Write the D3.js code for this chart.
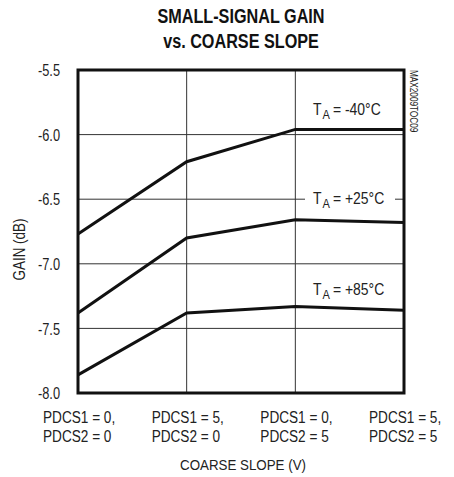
<!DOCTYPE html>
<html>
<head>
<meta charset="utf-8">
<script src="https://cdn.jsdelivr.net/npm/d3@7"></script>
<style>
  body { margin: 0; background: #fff; }
  text { font-family: "Liberation Sans", Arial, sans-serif; fill: #222; }
</style>
</head>
<body>
<div id="chart"></div>
<script>
// chart values
var categories = [["PDCS1 = 0,", "PDCS2 = 0"], ["PDCS1 = 5,", "PDCS2 = 0"], ["PDCS1 = 0,", "PDCS2 = 5"], ["PDCS1 = 5,", "PDCS2 = 5"]];
var gainM40 = [-6.77, -6.21, -5.96, -5.96];
var gainP25 = [-7.38, -6.80, -6.66, -6.68];
var gainP85 = [-7.86, -7.38, -7.33, -7.36];
var seriesNames = ["-40°C", "+25°C", "+85°C"];
var yTicks = [-8.0, -7.5, -7.0, -6.5, -6.0, -5.5];

var svgWidth = 454;
var svgHeight = 477;

var margin = { top: 70, right: 50, bottom: 84, left: 78 };
var width = 404 - margin.left;
var height = svgHeight - margin.top - margin.bottom;

// squeeze text horizontally to mimic a narrow typeface
function squeeze(sel, factor) {
    sel.each(function() {
        var len = this.getComputedTextLength();
        d3.select(this)
            .attr("textLength", len * factor)
            .attr("lengthAdjust", "spacingAndGlyphs");
    });
}

var svg = d3.select("#chart")
    .append("svg")
    .attr("width", svgWidth)
    .attr("height", svgHeight);

// title
var title = svg.append("g")
    .attr("font-weight", "bold")
    .attr("text-anchor", "middle");
title.append("text")
    .attr("x", 241).attr("y", 23)
    .style("font-size", "20px")
    .style("fill", "#111")
    .text("SMALL-SIGNAL GAIN");
title.append("text")
    .attr("x", 241).attr("y", 47.5)
    .style("font-size", "20px")
    .style("fill", "#111")
    .text("vs. COARSE SLOPE");
squeeze(title.selectAll("text"), 0.81);

var chartGroup = svg.append("g")
    .attr("transform", `translate(${margin.left}, ${margin.top})`);

var xScale = d3.scalePoint()
    .domain(d3.range(categories.length))
    .range([0, width]);

var yScale = d3.scaleLinear()
    .domain([-8.0, -5.5])
    .range([height, 0]);

// gridlines
chartGroup.append("g")
    .selectAll("line")
    .data(yTicks.slice(1, -1))
    .enter()
    .append("line")
    .attr("x1", 0).attr("x2", width)
    .attr("y1", d => yScale(d)).attr("y2", d => yScale(d))
    .attr("stroke", "#333").attr("stroke-width", 1);

chartGroup.append("g")
    .selectAll("line")
    .data(d3.range(1, categories.length - 1))
    .enter()
    .append("line")
    .attr("x1", d => xScale(d)).attr("x2", d => xScale(d))
    .attr("y1", 0).attr("y2", height)
    .attr("stroke", "#333").attr("stroke-width", 1);

// y axis labels
var leftAxis = d3.axisLeft(yScale)
    .tickValues(yTicks)
    .tickFormat(d => d3.format(".1f")(d).replace("\u2212", "-"))
    .tickSize(0)
    .tickPadding(18);
var yAxis = chartGroup.append("g").call(leftAxis);
yAxis.select(".domain").remove();
yAxis.selectAll("text")
    .style("font-size", "16px")
    .style("font-family", "'Liberation Sans', Arial, sans-serif")
    .attr("fill", "#222")
    .attr("dy", "0.36em");
squeeze(yAxis.selectAll("text"), 0.8);

// x axis labels (two lines each)
var xLabels = chartGroup.append("g")
    .selectAll("text")
    .data(categories)
    .enter()
    .append("text")
    .attr("y", height + 30)
    .style("font-size", "16px");
xLabels.each(function(d, i) {
    var t = d3.select(this);
    t.append("tspan").attr("x", xScale(i) - 35).attr("dy", 0).text(d[0]);
    t.append("tspan").attr("x", xScale(i) - 35).attr("dy", 18.5).text(d[1]);
});
squeeze(xLabels.selectAll("tspan"), 0.85);

// axis titles
var xTitle = chartGroup.append("text")
    .attr("x", width / 2 + 2)
    .attr("y", height + 77)
    .attr("text-anchor", "middle")
    .style("font-size", "15.5px")
    .text("COARSE SLOPE (V)");
squeeze(xTitle, 0.86);

var yTitle = chartGroup.append("text")
    .attr("transform", "rotate(-90)")
    .attr("x", -(height / 2) - 18)
    .attr("y", -53)
    .attr("text-anchor", "middle")
    .style("font-size", "16px")
    .text("GAIN (dB)");
squeeze(yTitle, 0.84);

// data lines
var line = d3.line()
    .x((d, i) => xScale(i))
    .y(d => yScale(d));

[gainM40, gainP25, gainP85].forEach(function(series) {
    chartGroup.append("path")
        .datum(series)
        .attr("d", line)
        .attr("fill", "none")
        .attr("stroke", "#111")
        .attr("stroke-width", 3);
});

// series labels: T, subscript A, then "= value", as separate texts
var labelY = [-5.85, -6.54, -7.24];
seriesNames.forEach(function(name, i) {
    var g = chartGroup.append("g")
        .attr("transform", `translate(${width - 56}, ${yScale(labelY[i])})`);
    g.append("rect")
        .attr("x", -43).attr("y", -16)
        .attr("width", 90).attr("height", 22)
        .attr("fill", "#fff");
    var x = -35;
    var parts = [
        { s: "T", size: 17, dy: 0 },
        { s: "A", size: 13.5, dy: 4, gap: 1 },
        { s: "= " + name, size: 17, dy: 0, gap: 3 }
    ];
    parts.forEach(function(p) {
        x += p.gap || 0;
        var t = g.append("text")
            .attr("x", x)
            .attr("y", p.dy)
            .style("font-size", p.size + "px")
            .text(p.s);
        squeeze(t, 0.82);
        x += t.node().getComputedTextLength();
    });
});

// plot border
chartGroup.append("rect")
    .attr("x", 0).attr("y", 0)
    .attr("width", width).attr("height", height)
    .attr("fill", "none")
    .attr("stroke", "#111")
    .attr("stroke-width", 3);

// side note
var note = svg.append("text")
    .attr("transform", "translate(410, 70) rotate(90)")
    .style("font-size", "10px")
    .text("MAX2009TOC09");
squeeze(note, 0.82);
</script>
</body>
</html>
